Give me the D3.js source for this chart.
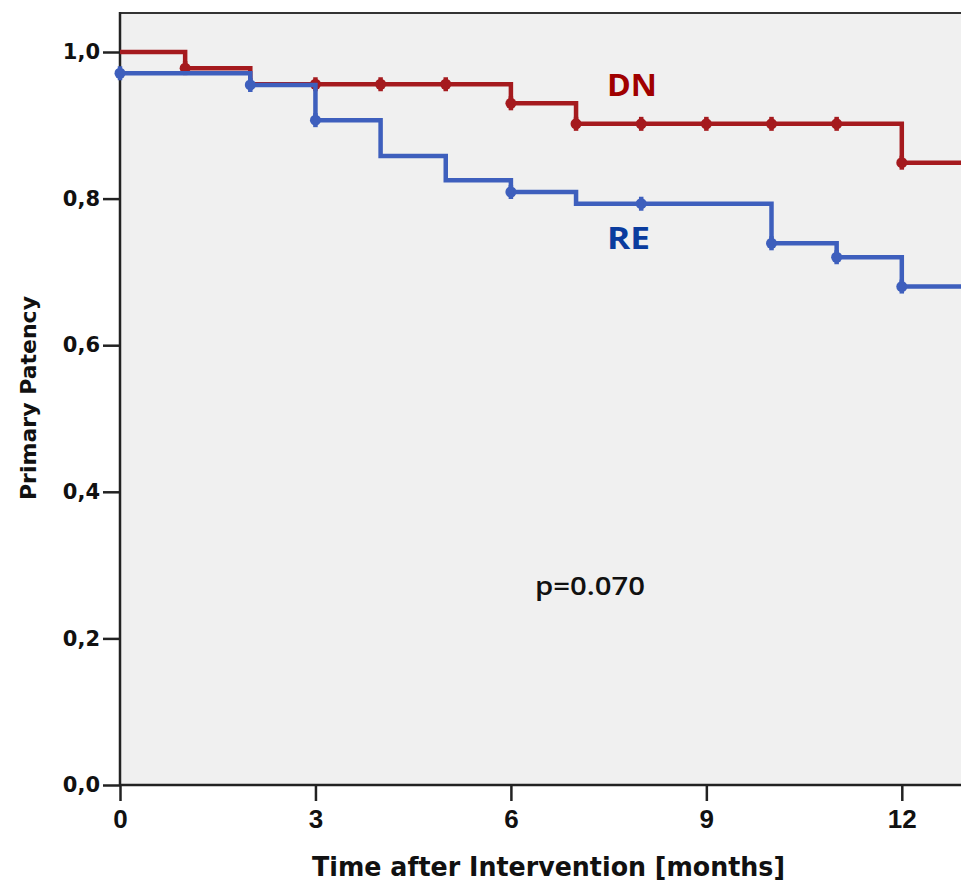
<!DOCTYPE html>
<html>
<head>
<meta charset="utf-8">
<script src="https://cdn.jsdelivr.net/npm/d3@7"></script>
<style>
  body { margin: 0; background: #fff; }
  svg { display: block; }
</style>
</head>
<body>
<div id="chart"></div>
<script>
// Kaplan-Meier step data
var dnTimes  = [0, 1, 2, 6, 7, 12];
var dnSurv   = [1.0, 0.978, 0.956, 0.930, 0.902, 0.849];
var dnCensor = [1, 3, 4, 5, 6, 7, 8, 9, 10, 11, 12];

var reTimes  = [0, 2, 3, 4, 5, 6, 7, 10, 11, 12];
var reSurv   = [0.971, 0.955, 0.907, 0.858, 0.825, 0.809, 0.793, 0.739, 0.720, 0.680];
var reCensor = [0, 2, 3, 6, 8, 10, 11, 12];

var xTicks = [0, 3, 6, 9, 12];
var yTicks = [0, 0.2, 0.4, 0.6, 0.8, 1.0];
var endTime = 15;

var W = 961, H = 882;
var mLeft = 120, mTop = 13, mBottom = 785;

var x = d3.scaleLinear().domain([0, 15]).range([mLeft, mLeft + 15 * 65.15]);
var y = d3.scaleLinear().domain([0, 1]).range([mBottom, 52]);

var svg = d3.select("#chart").append("svg")
    .attr("width", W)
    .attr("height", H);

// plot background + top frame
svg.append("rect")
    .attr("x", mLeft).attr("y", mTop)
    .attr("width", x(endTime) - mLeft).attr("height", mBottom - mTop)
    .style("fill", "#f0f0f0");

svg.append("line")
    .attr("x1", mLeft).attr("x2", x(endTime))
    .attr("y1", mTop).attr("y2", mTop)
    .style("stroke", "#333").style("stroke-width", 2);

// axes
var yAxis = d3.axisLeft(y).tickValues(yTicks).tickSize(17).tickPadding(3)
    .tickFormat(function(d){ return d3.format(".1f")(d).replace(".", ","); });
var xAxis = d3.axisBottom(x).tickValues(xTicks).tickSize(16).tickPadding(9)
    .tickFormat(d3.format("d"));

var gy = svg.append("g").attr("transform", "translate(" + mLeft + ",0)").call(yAxis);
var gx = svg.append("g").attr("transform", "translate(0," + mBottom + ")").call(xAxis);

[gx, gy].forEach(function(g){
  g.select(".domain").remove();
  g.selectAll(".tick line").style("stroke", "#222").style("stroke-width", 2.5);
  g.selectAll(".tick text")
    .style("font-weight", "bold")
    .style("fill", "#111");
});
gy.selectAll(".tick text")
  .style("font-family", "'DejaVu Sans', sans-serif")
  .style("font-size", "21px");
gx.selectAll(".tick text")
  .style("font-family", "'Liberation Sans', Arial, sans-serif")
  .style("font-size", "26px");

svg.append("line")
    .attr("x1", mLeft).attr("x2", mLeft)
    .attr("y1", mTop - 1).attr("y2", mBottom)
    .style("stroke", "#222").style("stroke-width", 2.5);
svg.append("line")
    .attr("x1", mLeft).attr("x2", x(endTime))
    .attr("y1", mBottom).attr("y2", mBottom)
    .style("stroke", "#222").style("stroke-width", 2.5);

// axis titles
svg.append("text")
    .attr("x", 312).attr("y", 876)
    .attr("textLength", 473)
    .attr("lengthAdjust", "spacingAndGlyphs")
    .style("font-family", "'DejaVu Sans', sans-serif")
    .style("font-weight", "bold")
    .style("font-size", "27px")
    .style("fill", "#111")
    .text("Time after Intervention [months]");

svg.append("text")
    .attr("transform", "translate(36,398) rotate(-90)")
    .attr("text-anchor", "middle")
    .style("font-family", "'DejaVu Sans', sans-serif")
    .style("font-weight", "bold")
    .style("font-size", "22px")
    .style("fill", "#111")
    .text("Primary Patency");

// step curves
function stepData(times, surv){
  var pts = times.map(function(t, i){ return [t, surv[i]]; });
  pts.push([endTime, surv[surv.length - 1]]);
  return pts;
}
function survAt(times, surv, t){
  var i = d3.bisectRight(times, t) - 1;
  return surv[Math.max(i, 0)];
}

var line = d3.line()
    .x(function(d){ return x(d[0]); })
    .y(function(d){ return y(d[1]); })
    .curve(d3.curveStepAfter);

var series = [
  {name: "DN", times: dnTimes, surv: dnSurv, censor: dnCensor, color: "#a51a1e"},
  {name: "RE", times: reTimes, surv: reSurv, censor: reCensor, color: "#3e5fbd"}
];

series.forEach(function(s){
  svg.append("path")
    .datum(stepData(s.times, s.surv))
    .attr("d", line)
    .style("fill", "none")
    .style("stroke", s.color)
    .style("stroke-width", 4.5);

  var m = svg.selectAll(".mark-" + s.name)
    .data(s.censor).enter()
    .append("g")
    .attr("transform", function(t){ return "translate(" + x(t) + "," + y(survAt(s.times, s.surv, t)) + ")"; });
  m.append("circle").attr("r", 5.5).style("fill", s.color);
  m.append("line")
    .attr("y1", -7).attr("y2", 7)
    .style("stroke", s.color).style("stroke-width", 4.5);
});

// labels
svg.append("text")
    .attr("x", 607).attr("y", 96)
    .attr("textLength", 50).attr("lengthAdjust", "spacingAndGlyphs")
    .style("font-family", "'Open Sans', sans-serif")
    .style("font-weight", "bold")
    .style("font-size", "31px")
    .style("fill", "#a00000")
    .text("DN");
svg.append("text")
    .attr("x", 607).attr("y", 249)
    .attr("textLength", 43).attr("lengthAdjust", "spacingAndGlyphs")
    .style("font-family", "'Open Sans', sans-serif")
    .style("font-weight", "bold")
    .style("font-size", "30px")
    .style("fill", "#0a3c9e")
    .text("RE");
svg.append("text")
    .attr("x", 535).attr("y", 595)
    .attr("textLength", 110).attr("lengthAdjust", "spacingAndGlyphs")
    .style("font-family", "'Open Sans', sans-serif")
    .style("font-weight", 600)
    .style("font-size", "25px")
    .style("fill", "#111")
    .text("p=0.070");
</script>
</body>
</html>
